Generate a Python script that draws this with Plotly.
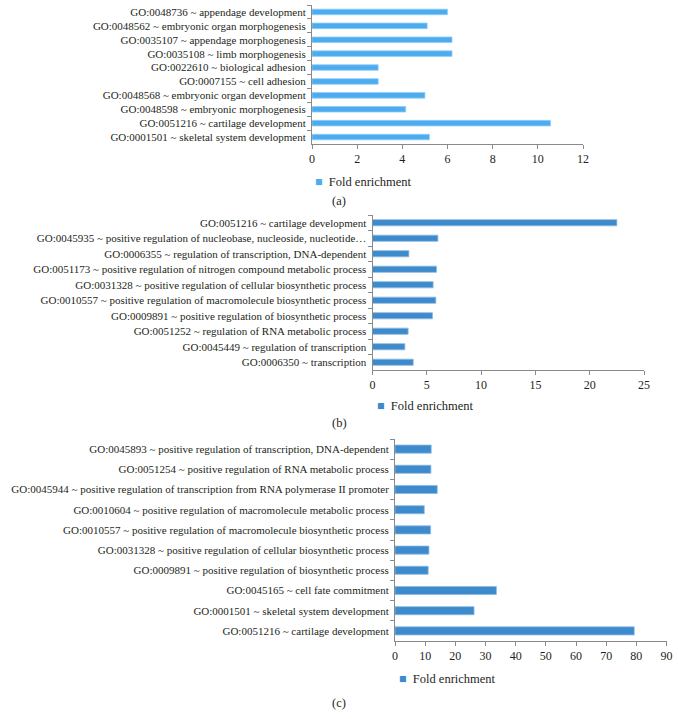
import plotly.graph_objects as go

W, H = 678, 719

# ---- data (top-to-bottom order as shown) ----
terms_a = [
    "GO:0048736 ~ appendage development",
    "GO:0048562 ~ embryonic organ morphogenesis",
    "GO:0035107 ~ appendage morphogenesis",
    "GO:0035108 ~ limb morphogenesis",
    "GO:0022610 ~ biological adhesion",
    "GO:0007155 ~ cell adhesion",
    "GO:0048568 ~ embryonic organ development",
    "GO:0048598 ~ embryonic morphogenesis",
    "GO:0051216 ~ cartilage development",
    "GO:0001501 ~ skeletal system development",
]
fold_a = [6.0, 5.1, 6.2, 6.2, 2.93, 2.93, 5.0, 4.15, 10.56, 5.2]

terms_b = [
    "GO:0051216 ~ cartilage development",
    "GO:0045935 ~ positive regulation of nucleobase, nucleoside, nucleotide…",
    "GO:0006355 ~ regulation of transcription, DNA-dependent",
    "GO:0051173 ~ positive regulation of nitrogen compound metabolic process",
    "GO:0031328 ~ positive regulation of cellular biosynthetic process",
    "GO:0010557 ~ positive regulation of macromolecule biosynthetic process",
    "GO:0009891 ~ positive regulation of biosynthetic process",
    "GO:0051252 ~ regulation of RNA metabolic process",
    "GO:0045449 ~ regulation of transcription",
    "GO:0006350 ~ transcription",
]
fold_b = [22.5, 6.02, 3.35, 5.89, 5.58, 5.83, 5.52, 3.28, 2.98, 3.75]

terms_c = [
    "GO:0045893 ~ positive regulation of transcription, DNA-dependent",
    "GO:0051254 ~ positive regulation of RNA metabolic process",
    "GO:0045944 ~ positive regulation of transcription from RNA polymerase II promoter",
    "GO:0010604 ~ positive regulation of macromolecule metabolic process",
    "GO:0010557 ~ positive regulation of macromolecule biosynthetic process",
    "GO:0031328 ~ positive regulation of cellular biosynthetic process",
    "GO:0009891 ~ positive regulation of biosynthetic process",
    "GO:0045165 ~ cell fate commitment",
    "GO:0001501 ~ skeletal system development",
    "GO:0051216 ~ cartilage development",
]
fold_c = [12.0, 11.9, 14.0, 9.7, 11.8, 11.25, 11.0, 33.6, 26.2, 79.3]

series_name = "Fold enrichment"
panel_labels = ["(a)", "(b)", "(c)"]
x_ranges = [[0, 12], [0, 25], [0, 90]]
x_dticks = [2, 5, 10]

color_a = "rgb(76,172,240)"
color_bc = "rgb(61,138,204)"
edge_a = "rgb(150,205,245)"
edge_bc = "rgb(140,185,225)"

FONT = "Liberation Serif, Times New Roman, serif"
TXT = "#231f20"
AX = "#8a8a8a"

# panel placement in pixels: (x0, x1, ytop, ybottom)
panels = [
    (312, 583, 5, 144),
    (372.5, 644, 215, 370),
    (395, 666.5, 439, 641),
]

def px_x(p):
    return p / W

def px_y(p):
    return 1 - p / H

fig = go.Figure()
datasets = [(terms_a, fold_a, color_a, edge_a),
            (terms_b, fold_b, color_bc, edge_bc),
            (terms_c, fold_c, color_bc, edge_bc)]

for i, (terms, vals, col, edge) in enumerate(datasets):
    sfx = "" if i == 0 else str(i + 1)
    fig.add_trace(go.Bar(
        x=vals, y=terms, orientation="h",
        marker=dict(color=col, line=dict(color=edge, width=0.8)),
        width=0.4, name=series_name, showlegend=False, hoverinfo="skip",
        xaxis="x" + sfx, yaxis="y" + sfx,
    ))
    x0, x1, yt, yb = panels[i]
    fig.update_layout(**{
        "xaxis" + sfx: dict(
            domain=[px_x(x0), px_x(x1)], anchor="y" + sfx,
            range=x_ranges[i], dtick=x_dticks[i], tick0=0,
            automargin=False,
            showgrid=False, zeroline=False, showline=True,
            linecolor=AX, linewidth=1, ticks="outside", ticklen=4,
            tickcolor=AX, tickfont=dict(family=FONT, size=12, color=TXT),
            fixedrange=True,
        ),
        "yaxis" + sfx: dict(
            domain=[px_y(yb), px_y(yt)], anchor="x" + sfx,
            autorange="reversed", type="category",
            tickmode="linear", dtick=1, tick0=0, automargin=False,
            showgrid=False, zeroline=False, showline=True,
            linecolor=AX, linewidth=1, ticks="outside", ticklen=4,
            tickson="boundaries", tickcolor=AX, ticklabelstandoff=3,
            tickfont=dict(family=FONT, size=11, color=TXT),
            fixedrange=True,
        ),
    })

# legends (square + text) and panel captions
legend_pos = [(313, 181.5), (374.5, 406), (396.5, 678.5)]
caption_y = [201, 423, 703]
for i, (lx, ly) in enumerate(legend_pos):
    col = color_a if i == 0 else color_bc
    fig.add_annotation(
        x=px_x(lx), y=px_y(ly), xref="paper", yref="paper",
        xanchor="left", yanchor="middle", showarrow=False,
        text=f"<span style='color:{col}'>■</span>  {series_name}",
        font=dict(family=FONT, size=12.5, color=TXT),
    )
    fig.add_annotation(
        x=px_x(339), y=px_y(caption_y[i]), xref="paper", yref="paper",
        xanchor="center", yanchor="middle", showarrow=False,
        text=panel_labels[i], font=dict(family=FONT, size=12.5, color=TXT),
    )

fig.update_layout(
    width=W, height=H, margin=dict(l=0, r=0, t=0, b=0),
    paper_bgcolor="white", plot_bgcolor="white",
    showlegend=False, bargap=0.6,
)

fig.write_html("out.html", config={"displayModeBar": False},
               post_script="document.body.style.margin='0';")
